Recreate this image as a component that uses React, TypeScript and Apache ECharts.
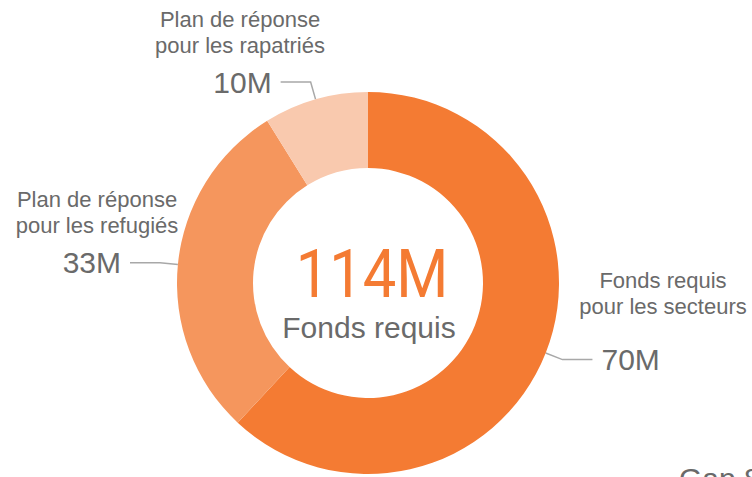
import React, { useEffect, useRef } from "react";
import * as echarts from "echarts";

const categories = [
  "Fonds requis\npour les secteurs",
  "Plan de réponse\npour les refugiés",
  "Plan de réponse\npour les rapatriés",
];
const values = [70, 33, 10];
const valueLabels = ["70M", "33M", "10M"];
const colors = ["#F47B33", "#F5965D", "#F9C9AE"];
const totalLabel = "114M";
const totalCaption = "Fonds requis";
const gapLabel = "Gap 8";

const TEXT_GRAY = "#6a6a6a";
const FONT = "'Liberation Sans', Arial, sans-serif";

export default function App() {
  const ref = useRef<HTMLDivElement>(null);
  useEffect(() => {
    document.body.style.margin = "0";
    if (!ref.current) return;
    const chart = echarts.init(ref.current, undefined, { renderer: "svg" });
    const nameStyle = (text: string) => ({
      text,
      fill: TEXT_GRAY,
      font: `22px ${FONT}`,
      lineHeight: 26,
      align: "center",
      verticalAlign: "middle",
    });
    chart.setOption({
      animation: false,
      backgroundColor: "#ffffff",
      series: [
        {
          type: "pie",
          center: [368, 283],
          radius: [115, 191],
          startAngle: 90,
          clockwise: true,
          avoidLabelOverlap: false,
          silent: true,
          data: values.map((v, i) => ({
            value: v,
            name: categories[i],
            itemStyle: { color: colors[i] },
          })),
          label: {
            show: true,
            position: "outside",
            formatter: (p: any) => valueLabels[p.dataIndex],
            color: TEXT_GRAY,
            fontSize: 30,
            fontFamily: FONT,
            distanceToLabelLine: 9,
          },
          labelLine: {
            show: true,
            length: 18,
            length2: 30,
            lineStyle: { color: "#a8a8a8", width: 1.5 },
          },
        },
      ],
      graphic: [
        { type: "text", x: 240, y: 32, style: nameStyle(categories[2]) },
        { type: "text", x: 97, y: 212, style: nameStyle(categories[1]) },
        { type: "text", x: 663, y: 293, style: nameStyle(categories[0]) },
        {
          type: "text",
          x: 372,
          y: 274,
          scaleX: 0.89,
          style: {
            text: totalLabel,
            fill: colors[0],
            font: `67px Roboto, sans-serif`,
            align: "center",
            verticalAlign: "middle",
          },
        },
        {
          type: "text",
          x: 369,
          y: 327,
          style: {
            text: totalCaption,
            fill: TEXT_GRAY,
            font: `30px ${FONT}`,
            align: "center",
            verticalAlign: "middle",
          },
        },
        {
          type: "text",
          x: 679,
          y: 478,
          style: {
            text: gapLabel,
            fill: TEXT_GRAY,
            font: `30px ${FONT}`,
            align: "left",
            verticalAlign: "middle",
          },
        },
      ],
    });
    return () => chart.dispose();
  }, []);
  return <div ref={ref} style={{ width: 752, height: 477 }} />;
}
